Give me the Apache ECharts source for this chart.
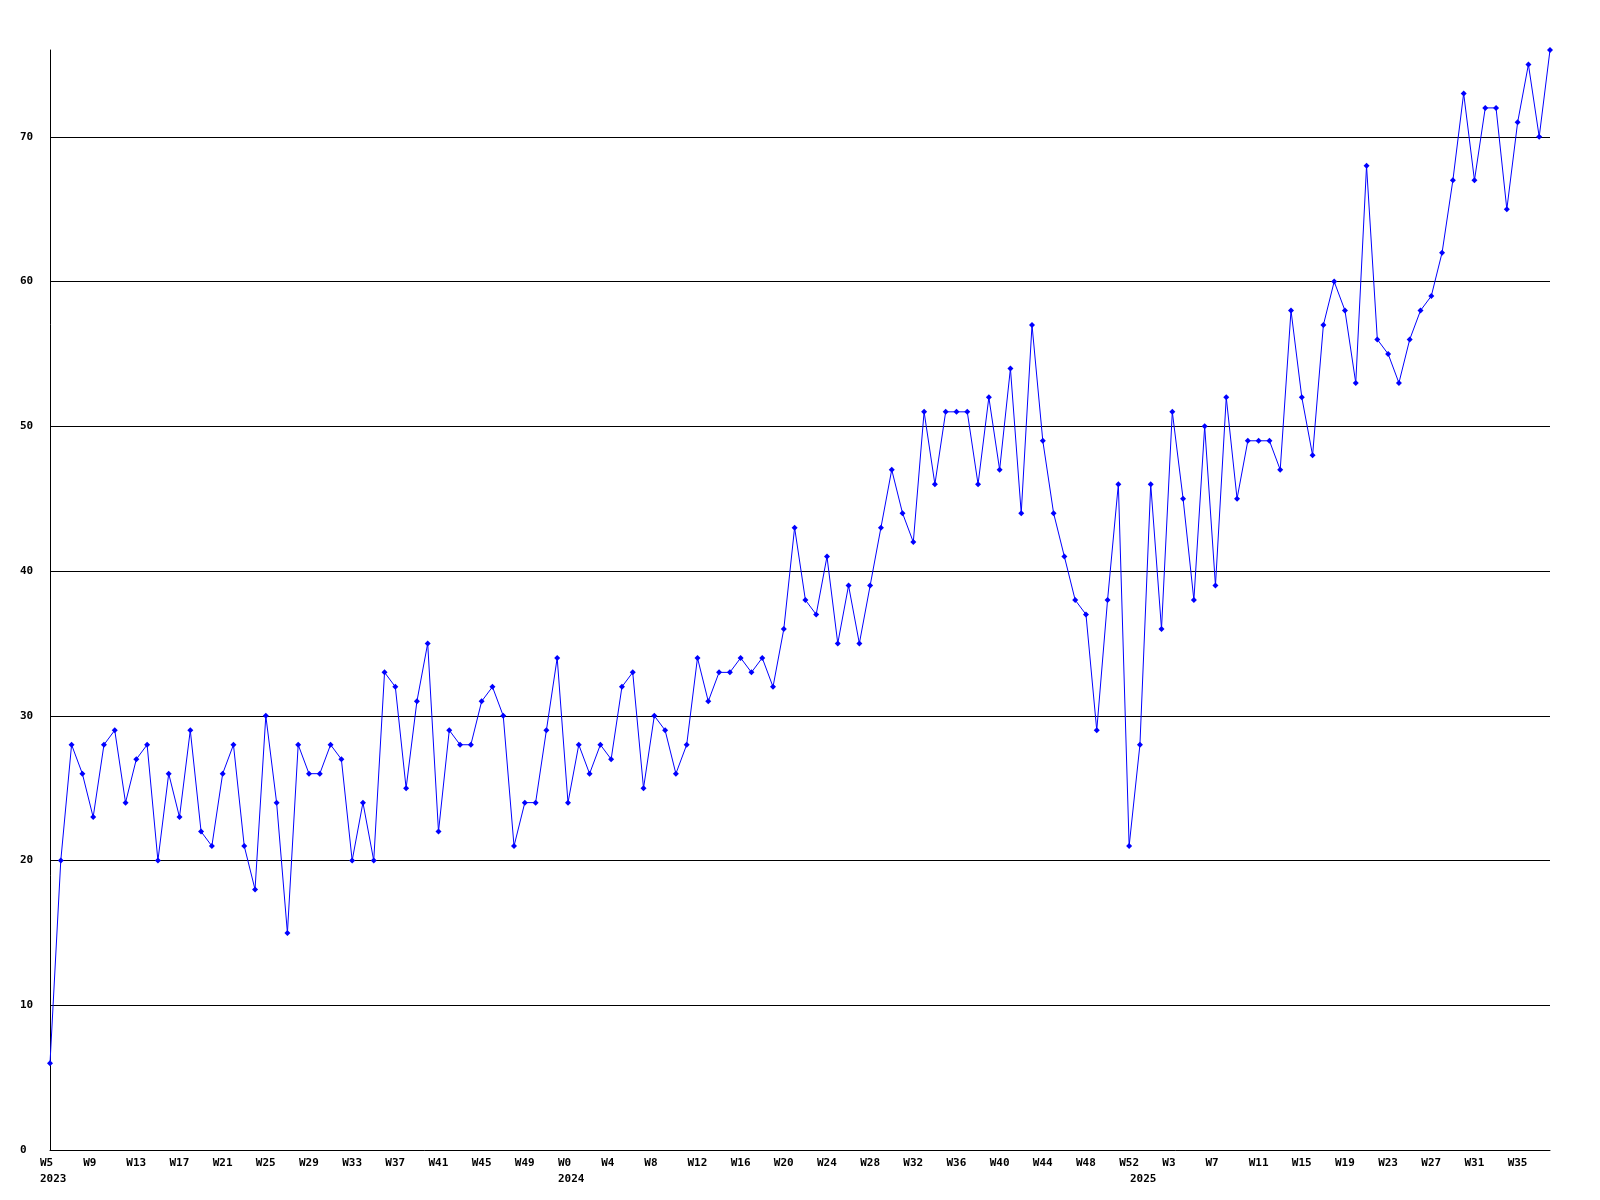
<!DOCTYPE html>
<html>
<head>
<meta charset="utf-8">
<script src="https://cdn.jsdelivr.net/npm/echarts@6/dist/echarts.min.js"></script>
<style>
  html, body { margin: 0; padding: 0; background: #fff; }
  #chart { width: 1600px; height: 1200px; }
</style>
</head>
<body>
<div id="chart"></div>
<script>
// weekly counts, one array per year
const years = [2023, 2024, 2025]
const firstWeek = [5, 0, 0]
const lastWeek = [52, 52, 38]

const counts2023 = [6, 20, 28, 26, 23, 28, 29, 24, 27, 28, 20, 26, 23, 29, 22, 21, 26, 28, 21, 18,
  30, 24, 15, 28, 26, 26, 28, 27, 20, 24, 20, 33, 32, 25, 31, 35, 22, 29, 28, 28,
  31, 32, 30, 21, 24, 24, 29, 34]
const counts2024 = [24, 28, 26, 28, 27, 32, 33, 25, 30, 29, 26, 28, 34, 31, 33, 33, 34, 33, 34, 32,
  36, 43, 38, 37, 41, 35, 39, 35, 39, 43, 47, 44, 42, 51, 46, 51, 51, 51, 46, 52,
  47, 54, 44, 57, 49, 44, 41, 38, 37, 29, 38, 46, 21]
const counts2025 = [28, 46, 36, 51, 45, 38, 50, 39, 52, 45, 49, 49, 49, 47, 58, 52, 48, 57, 60, 58,
  53, 68, 56, 55, 53, 56, 58, 59, 62, 67, 73, 67, 72, 72, 65, 71, 75, 70, 76]

const yTicks = [0, 10, 20, 30, 40, 50, 60, 70]
const yMax = 76
const labelEvery = 4

const font = 'DejaVu Sans Mono'

// build the category list: week label + year marker for first week of each year
const weeks = []
const yearAt = []
const values = [].concat(counts2023, counts2024, counts2025)
years.forEach((y, k) => {
  for (let w = firstWeek[k]; w <= lastWeek[k]; w++) {
    weeks.push('W' + w)
    yearAt.push(w === firstWeek[k] ? String(y) : '')
  }
})

const chart = echarts.init(document.getElementById('chart'), null, { renderer: 'canvas' })

const option = {
  animation: false,
  backgroundColor: '#ffffff',
  grid: { left: 50, right: 50, top: 50, bottom: 50, containLabel: false },
  xAxis: {
    type: 'category',
    data: weeks,
    boundaryGap: false,
    axisLine: { lineStyle: { color: '#000', width: 1 } },
    axisTick: { show: false },
    splitLine: { show: false },
    axisLabel: {
      interval: 0,
      margin: 5,
      align: 'left',
      padding: [0, 0, 0, -10],
      color: '#000',
      fontFamily: font,
      fontWeight: 'bold',
      fontSize: 11,
      lineHeight: 16,
      formatter: (val, i) => {
        const top = i % labelEvery === 0 ? val : ''
        return yearAt[i] ? top + '\n' + yearAt[i] : top
      }
    }
  },
  yAxis: {
    type: 'value',
    min: 0,
    max: yMax,
    interval: 10,
    axisLine: { show: true, lineStyle: { color: '#000', width: 1 } },
    axisTick: { show: false },
    splitLine: { show: true, showMinLine: false, showMaxLine: false, lineStyle: { color: '#000', width: 1 } },
    axisLabel: {
      showMaxLabel: false,
      align: 'left',
      margin: 30,
      color: '#000',
      fontFamily: font,
      fontWeight: 'bold',
      fontSize: 11,
      formatter: v => (yTicks.indexOf(v) >= 0 ? String(v) : '')
    }
  },
  series: [{
    type: 'line',
    data: values,
    symbol: 'diamond',
    symbolSize: 6,
    showAllSymbol: true,
    itemStyle: { color: '#0000ff' },
    lineStyle: { color: '#0000ff', width: 1 },
    emphasis: { disabled: true }
  }]
}

chart.setOption(option)
</script>
</body>
</html>
